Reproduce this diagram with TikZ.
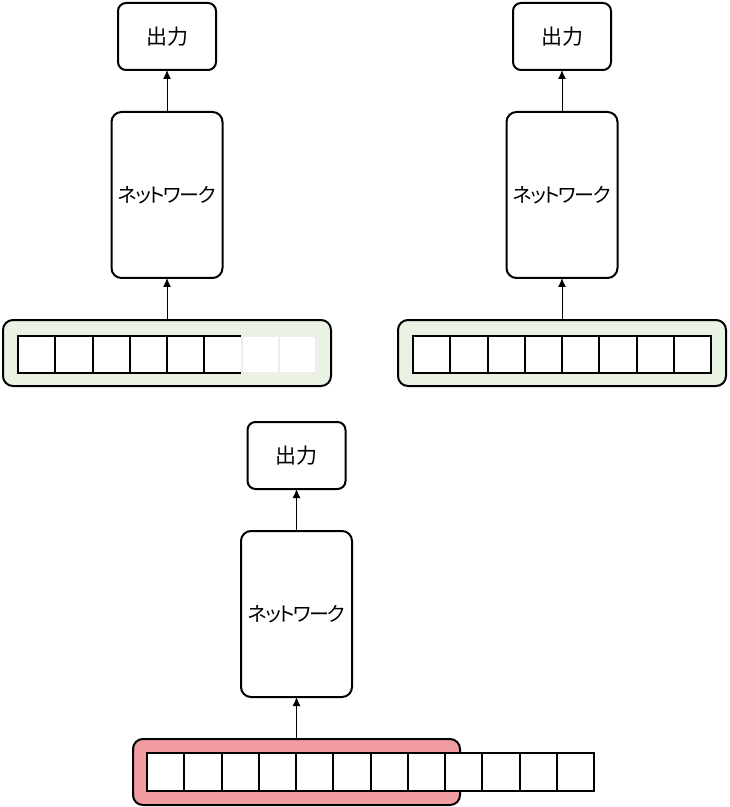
\documentclass[tikz,border=0pt]{standalone}
\usepackage{fontspec}
\usepackage{xcolor}
\usepackage{tikz}
\usetikzlibrary{positioning,arrows.meta}
\newfontfamily\jp{Noto Sans CJK JP}
\newfontfamily\jpnarrow[RawFeature=+palt, LetterSpace=-8]{Noto Sans CJK JP}
\definecolor{barok}{HTML}{EAF2E3}
\definecolor{barng}{HTML}{F09CA2}

\begin{document}
\begin{tikzpicture}[x=0.5pt, y=-0.5pt, node distance=21pt,
  every node/.style={inner sep=0pt, outer sep=0pt, font=\jp\fontsize{10.5pt}{12pt}\selectfont},
  outbox/.style={draw, line width=1pt, rounded corners=4pt, fill=white, minimum width=49pt, minimum height=33.5pt},
  net/.style={draw, line width=1pt, rounded corners=5pt, fill=white, minimum width=55.5pt, minimum height=83pt,
    font=\jpnarrow\fontsize{10pt}{12pt}\selectfont},
  bar/.style={draw, line width=1pt, rounded corners=5pt, fill=#1, minimum width=164pt, minimum height=33pt},
  cell/.style={draw, line width=1pt, fill=white, minimum width=18.6pt, minimum height=18.6pt},
  ghost/.style={draw=black!7, line width=1pt, fill=white, minimum width=18.6pt, minimum height=18.6pt},
  arr/.style={-{Latex[length=4.5pt,width=4pt]}, line width=0.5pt}]
\useasboundingbox (0,0) rectangle (729,807);

\node[bar=barok] (bar1) at (167,353) {};
\foreach \i in {1,...,6} \node[cell] (a\i) at (18+37.25*\i-18.6,354.5) {};
\foreach \i in {7,8} \node[ghost] (a\i) at (18+37.25*\i-18.6,354.5) {};
\node[net, above=of bar1] (net1) {ネットワーク};
\node[outbox, above=of net1] (out1) {出力};
\draw[arr] (bar1) -- (net1);
\draw[arr] (net1) -- (out1);

\node[bar=barok] (bar2) at (562,353) {};
\foreach \i in {1,...,8} \node[cell] (b\i) at (413+37.25*\i-18.6,354.5) {};
\node[net, above=of bar2] (net2) {ネットワーク};
\node[outbox, above=of net2] (out2) {出力};
\draw[arr] (bar2) -- (net2);
\draw[arr] (net2) -- (out2);

\node[bar=barng, minimum width=163.5pt] (bar3) at (296.5,772) {};
\foreach \i in {1,...,12} \node[cell] (c\i) at (147+37.25*\i-18.6,772) {};
\node[net, above=of bar3] (net3) {ネットワーク};
\node[outbox, above=of net3] (out3) {出力};
\draw[arr] (bar3) -- (net3);
\draw[arr] (net3) -- (out3);
\end{tikzpicture}
\end{document}
